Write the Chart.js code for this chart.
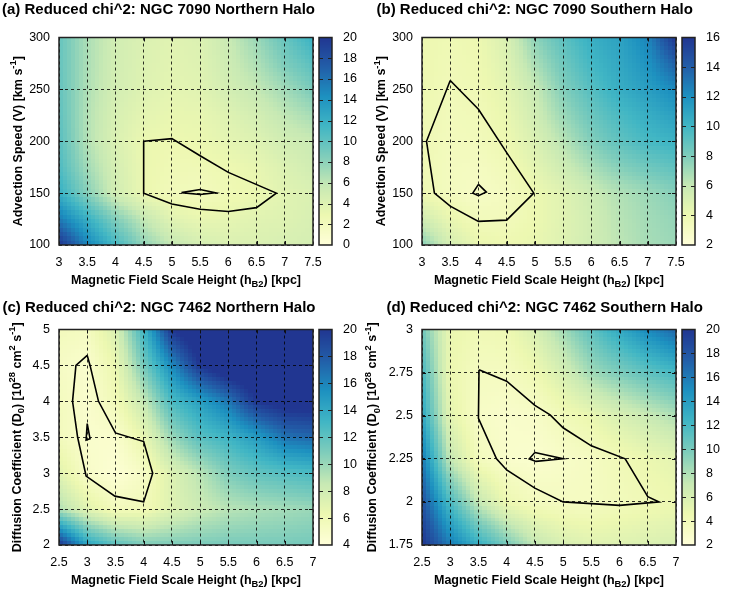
<!DOCTYPE html>
<html><head><meta charset="utf-8">
<script src="https://cdn.jsdelivr.net/npm/chart.js@4.4.1/dist/chart.umd.min.js"></script>
<style>
html,body{margin:0;padding:0;background:#fff;width:747px;height:592px;overflow:hidden;position:relative}
canvas{position:absolute}
</style></head><body>
<canvas id="ca"></canvas><canvas id="cb"></canvas><canvas id="cc"></canvas><canvas id="cd"></canvas>
<script>
// ---------- data ----------
// (a) NGC 7090 Northern Halo
const aXTicks = [3,3.5,4,4.5,5,5.5,6,6.5,7,7.5];
const aYTicks = [100,150,200,250,300];
const aYGrid  = [100,125,150,175,200,225,250,275,300];
const aCbTicks = [0,2,4,6,8,10,12,14,16,18,20];
const aZ = [ // rows: y = 100 ... 300, columns: x = 3 ... 7.5
  [20,15,11.2,7.8,5.8,4.7,4.3,4.3,4.5,4.7],
  [15.5,12,8.5,5.8,3.8,3.2,3.4,3.8,4,4.5],
  [12,8.3,5,3,2.2,2,2.5,3,3.8,4.3],
  [10.8,7.2,4.7,3,2.5,2.5,2.8,3.3,4.2,5],
  [10.3,6.5,4.3,3,2.8,3,3.5,4,5,5.5],
  [10,6.5,4.5,3.5,3.2,3.3,4,4.8,6,7],
  [9.8,6.7,4.8,4,3.5,3.8,4.8,5.8,7.2,8.8],
  [9.7,6.8,4.9,4.1,3.7,4,5.2,6.7,8.7,10.3],
  [9.7,6.8,5,4.2,3.8,4.2,5.5,7.5,9.7,11.8]
];
const aContourOuter = [[4.5,200],[5,202.5],[5.5,186],[6,170],[6.85,150],[6.5,136],[6,132.3],[5.5,134.5],[5,139.5],[4.5,150],[4.5,200]];
const aContourInner = [[5.17,150.5],[5.5,153.5],[5.77,150.3],[5.5,148.7],[5.17,150.5]];

// (b) NGC 7090 Southern Halo
const bXTicks = [3,3.5,4,4.5,5,5.5,6,6.5,7,7.5];
const bYTicks = [100,150,200,250,300];
const bYGrid  = [100,125,150,175,200,225,250,275,300];
const bCbTicks = [2,4,6,8,10,12,14,16];
const bZ = [
  [7.7,5.3,4.2,4,4.2,4.8,5.5,6.3,6.9,7.2],
  [5.5,4.2,3.5,3.5,4,4.7,5.5,6.4,7,7.4],
  [3.9,3.3,3,3.3,4,4.7,5.7,6.6,7.2,7.8],
  [3.8,3.3,3.2,3.6,4.5,5.6,6.8,7.8,8.5,9],
  [3.8,3.4,3.5,4,5,6.4,7.9,9,9.8,10.2],
  [3.9,3.5,3.6,4.2,5.5,7.2,8.6,9.7,10.5,11.2],
  [4,3.6,3.8,4.5,5.9,7.9,9.3,10.5,11.3,12.3],
  [4,3.7,3.9,4.8,6.8,8.5,9.9,10.8,11.9,14],
  [4,3.8,4,5.1,7.6,9.1,10.4,11.1,12.5,16]
];
const bContourOuter = [[3.5,258.5],[4,230.8],[4.5,189],[4.98,150],[4.5,124],[4,122.8],[3.5,137.5],[3.22,150],[3.08,200],[3.5,258.5]];
const bContourInner = [[4,158.4],[4.14,151],[4,147.5],[3.9,150],[4,158.4]];

// (c) NGC 7462 Northern Halo
const cXTicks = [2.5,3,3.5,4,4.5,5,5.5,6,6.5,7];
const cYTicks = [2,2.5,3,3.5,4,4.5,5];
const cYGrid  = [2,2.5,3,3.5,4,4.5,5];
const cCbTicks = [4,6,8,10,12,14,16,18,20];
const cZ = [
  [20,14.3,12.1,10.9,10.9,11,11.1,11.1,11.1,11.2],
  [9.3,7,5.6,5.8,7.2,8.3,9,9.4,9.7,10],
  [7,5,4.3,5.2,7.3,9,10.9,11.9,12.4,12.8],
  [5.6,4.7,4.7,6.6,10,12.3,13.3,14.8,16.8,17.3],
  [5.5,4.7,5.8,8.6,12.8,14.6,16.6,20,21,21],
  [5.2,4.7,6.4,11.3,15.8,20,22,22,22,22],
  [5.6,5.4,7.4,13.3,20,22,22,22,22,22]
];
const cContourOuter = [[3,4.64],[3.05,4.5],[3.2,4],[3.5,3.56],[4,3.44],[4.16,3],[4,2.6],[3.49,2.68],[2.98,2.96],[2.83,3.5],[2.74,4],[2.8,4.5],[3,4.64]];
const cContourInner = [[3,3.69],[3.05,3.48],[2.98,3.46],[3,3.69]];

// (d) NGC 7462 Southern Halo
const dXTicks = [2.5,3,3.5,4,4.5,5,5.5,6,6.5,7];
const dYTicks = [1.75,2,2.25,2.5,2.75,3];
const dYGrid  = [1.75,2,2.25,2.5,2.75,3];
const dCbTicks = [2,4,6,8,10,12,14,16,18,20];
const dZ = [
  [20,15.9,12.8,10,7.3,6,5.5,5.6,5.8,6],
  [18.2,11.8,7.2,4.5,3.7,3.5,3.5,3.9,4.2,4.5],
  [16,7.2,3.8,2.9,2.7,3.1,3.5,4.1,4.7,5.2],
  [13.4,5.2,3.2,2.9,3.1,4,4.8,6,7,8],
  [12,4.6,3.6,3.6,4.4,6.2,8.5,9.8,11,12],
  [10.3,4.8,4.2,4.4,6,8.5,11,13.3,15.3,17]
];
const dContourOuter = [[3.51,2.766],[4,2.7],[4.5,2.56],[4.77,2.505],[5,2.43],[5.5,2.325],[6.1,2.25],[6.5,2.03],[6.7,2],[6,1.98],[5,2],[4.5,2.08],[4,2.185],[3.82,2.25],[3.5,2.485],[3.51,2.766]];
const dContourInner = [[4.5,2.287],[5,2.25],[4.52,2.235],[4.4,2.25],[4.5,2.287]];

// ---------- texts ----------
const titleA = '(a) Reduced chi^2: NGC 7090 Northern Halo';
const titleB = '(b) Reduced chi^2: NGC 7090 Southern Halo';
const titleC = '(c) Reduced chi^2: NGC 7462 Northern Halo';
const titleD = '(d) Reduced chi^2: NGC 7462 Southern Halo';
const xTitle = [['Magnetic Field Scale Height (h','n'],['B2','sub'],[') [kpc]','n']];
const velTitle = [['Advection Speed (V) [km s','n'],['-1','sup'],[']','n']];
const difTitle = [['Diffusion Coefficient (D','n'],['0','sub'],[') [10','n'],['28','sup'],[' cm','n'],['2','sup'],[' s','n'],['-1','sup'],[']','n']];

// ---------- styling / rendering ----------
const FONT = '"Liberation Sans", Arial, Helvetica, sans-serif';
Chart.defaults.font.family = FONT;
Chart.defaults.color = '#000';
const STOPS = [[255,255,217],[237,248,177],[199,233,180],[127,205,187],[65,182,196],[29,145,192],[34,94,168],[33,54,145]];
function cmap(f){
  f = Math.max(0, Math.min(1, f));
  const n = STOPS.length - 1, t = f * n;
  const i = Math.min(n - 1, Math.floor(t)), u = t - i;
  const a = STOPS[i], b = STOPS[i + 1];
  return 'rgb(' + Math.round(a[0] + (b[0] - a[0]) * u) + ',' + Math.round(a[1] + (b[1] - a[1]) * u) + ',' + Math.round(a[2] + (b[2] - a[2]) * u) + ')';
}
const fmt = v => String(Math.round(v * 1000) / 1000);

function drawRich(ctx, parts, cx, cy, fs, rot){
  const fnt = k => 'bold ' + (k === 'n' ? fs : fs * 0.75) + 'px ' + FONT;
  ctx.save(); ctx.translate(cx, cy); ctx.rotate(rot);
  let total = 0; const ws = [];
  parts.forEach(([t, k]) => { ctx.font = fnt(k); const w = ctx.measureText(t).width; ws.push(w); total += w; });
  let x = -total / 2;
  ctx.textAlign = 'left'; ctx.textBaseline = 'alphabetic'; ctx.fillStyle = '#000';
  const base = 0.36 * fs;
  parts.forEach(([t, k], i) => {
    ctx.font = fnt(k);
    const dy = k === 'sup' ? -0.42 * fs : (k === 'sub' ? 0.28 * fs : 0);
    ctx.fillText(t, x, base + dy); x += ws[i];
  });
  ctx.restore();
}

function heatPlugin(p){
  return { id: 'heat', beforeDraw(chart){
    const ctx = chart.ctx, sx = chart.scales.x, sy = chart.scales.y;
    const xs = p.xTicks, ys = p.yGrid, z = p.z, lo = p.cbTicks[0], hi = p.cbTicks[p.cbTicks.length - 1];
    ctx.save();
    for (let i = 0; i < xs.length - 1; i++){
      const nx = Math.max(1, Math.round(Math.abs(sx.getPixelForValue(xs[i+1]) - sx.getPixelForValue(xs[i])) / 4));
      for (let j = 0; j < ys.length - 1; j++){
        const ny = Math.max(1, Math.round(Math.abs(sy.getPixelForValue(ys[j+1]) - sy.getPixelForValue(ys[j])) / 4));
        const z00 = z[j][i], z10 = z[j][i+1], z01 = z[j+1][i], z11 = z[j+1][i+1];
        for (let a = 0; a < nx; a++){
          const x0 = Math.round(sx.getPixelForValue(xs[i] + (xs[i+1] - xs[i]) * a / nx));
          const x1 = Math.round(sx.getPixelForValue(xs[i] + (xs[i+1] - xs[i]) * (a + 1) / nx));
          const u = (a + 0.5) / nx;
          for (let b = 0; b < ny; b++){
            const y0 = Math.round(sy.getPixelForValue(ys[j] + (ys[j+1] - ys[j]) * b / ny));
            const y1 = Math.round(sy.getPixelForValue(ys[j] + (ys[j+1] - ys[j]) * (b + 1) / ny));
            const v = (b + 0.5) / ny;
            const val = z00 * (1 - u) * (1 - v) + z10 * u * (1 - v) + z01 * (1 - u) * v + z11 * u * v;
            ctx.fillStyle = cmap((val - lo) / (hi - lo));
            ctx.fillRect(Math.min(x0, x1), Math.min(y0, y1), Math.abs(x1 - x0), Math.abs(y1 - y0));
          }
        }
      }
    }
    ctx.restore();
  }};
}

function framePlugin(p){
  return { id: 'frame', afterDatasetsDraw(chart){
    const ctx = chart.ctx, ca = chart.chartArea, sx = chart.scales.x, sy = chart.scales.y, sc = chart.scales.cb;
    ctx.save();
    ctx.strokeStyle = '#111'; ctx.lineWidth = 1;
    ctx.beginPath();
    p.xTicks.slice(1, -1).forEach(v => { const x = Math.round(sx.getPixelForValue(v)) + 0.5;
      ctx.moveTo(x, ca.bottom); ctx.lineTo(x, ca.bottom - 4); ctx.moveTo(x, ca.top); ctx.lineTo(x, ca.top + 4); });
    p.yTicks.slice(1, -1).forEach(v => { const y = Math.round(sy.getPixelForValue(v)) + 0.5;
      ctx.moveTo(ca.left, y); ctx.lineTo(ca.left + 4, y); ctx.moveTo(ca.right, y); ctx.lineTo(ca.right - 4, y); });
    ctx.stroke();
    ctx.lineWidth = 1.5; ctx.strokeStyle = '#222';
    ctx.strokeRect(ca.left, ca.top, ca.right - ca.left, ca.bottom - ca.top);
    const lo = p.cbTicks[0], hi = p.cbTicks[p.cbTicks.length - 1];
    const bx = Math.round(ca.right + 6), bw = 13;
    for (let py = Math.floor(ca.top); py < Math.ceil(ca.bottom); py++){
      const v = sc.getValueForPixel(py + 0.5);
      ctx.fillStyle = cmap((v - lo) / (hi - lo));
      ctx.fillRect(bx, py, bw, 1);
    }
    ctx.lineWidth = 1; ctx.strokeStyle = '#222';
    ctx.beginPath();
    p.cbTicks.slice(1, -1).forEach(v => { const y = Math.round(sc.getPixelForValue(v)) + 0.5;
      ctx.moveTo(bx, y); ctx.lineTo(bx + 4, y); ctx.moveTo(bx + bw, y); ctx.lineTo(bx + bw - 4, y); });
    ctx.stroke();
    ctx.lineWidth = 1.5;
    ctx.strokeRect(bx, ca.top, bw, ca.bottom - ca.top);
    ctx.restore();
  }};
}

function labelPlugin(p){
  return { id: 'labels', afterDraw(chart){
    const ctx = chart.ctx, ca = chart.chartArea;
    ctx.save();
    ctx.font = 'bold 15px ' + FONT; ctx.fillStyle = '#000'; ctx.textAlign = 'left'; ctx.textBaseline = 'alphabetic';
    ctx.fillText(p.title, p.titleX - p.L, p.titleY - p.T);
    ctx.restore();
    drawRich(ctx, xTitle, (ca.left + ca.right) / 2, ca.bottom + 34, 12.5, 0);
    drawRich(ctx, p.yTitle, ca.left - p.yOff, (ca.top + ca.bottom) / 2, 12.5, -Math.PI / 2);
  }};
}

const GRID = 'rgba(0,0,0,0.8)';
function makeChart(p){
  const cv = document.getElementById(p.id);
  cv.width = p.W; cv.height = p.H;
  cv.style.left = p.L + 'px'; cv.style.top = p.T + 'px';
  cv.style.width = p.W + 'px'; cv.style.height = p.H + 'px';
  const [al, ar, at, ab] = p.area;
  const datasets = p.contours.map(c => ({
    data: c.map(([x, y]) => ({x, y})), showLine: true, borderColor: '#000', borderWidth: 1.6,
    pointRadius: 0, pointHoverRadius: 0, fill: false, tension: 0
  }));
  const tickSet = arr => s => { s.ticks = arr.map(v => ({value: v})); };
  new Chart(cv, {
    type: 'scatter',
    data: {datasets},
    options: {
      responsive: false, animation: false, devicePixelRatio: 1, events: [],
      layout: {padding: {top: at - p.T, left: 0, right: 0, bottom: 0}},
      plugins: {legend: {display: false}, tooltip: {enabled: false}, title: {display: false}},
      scales: {
        x: {type: 'linear', position: 'bottom', min: p.xTicks[0], max: p.xTicks[p.xTicks.length - 1],
            afterBuildTicks: tickSet(p.xTicks), afterFit: s => { s.height = p.T + p.H - ab; },
            ticks: {padding: 10, autoSkip: false, maxRotation: 0, callback: v => fmt(v), font: {size: 12.5}, color: '#000'},
            grid: {color: GRID, lineWidth: 1, drawTicks: false}, border: {display: false, dash: [3, 3]}},
        y: {type: 'linear', position: 'left', min: p.yTicks[0], max: p.yTicks[p.yTicks.length - 1],
            afterBuildTicks: tickSet(p.yTicks), afterFit: s => { s.width = al - p.L; },
            ticks: {padding: 9, autoSkip: false, callback: v => fmt(v), font: {size: 12.5}, color: '#000'},
            grid: {color: GRID, lineWidth: 1, drawTicks: false}, border: {display: false, dash: [3, 3]}},
        cb: {type: 'linear', position: 'right', min: p.cbTicks[0], max: p.cbTicks[p.cbTicks.length - 1],
            afterBuildTicks: tickSet(p.cbTicks), afterFit: s => { s.width = p.L + p.W - ar; },
            ticks: {padding: 30, autoSkip: false, callback: v => fmt(v), font: {size: 12.5}, color: '#000'},
            grid: {display: false, drawTicks: false}, border: {display: false}}
      }
    },
    plugins: [heatPlugin(p), framePlugin(p), labelPlugin(p)]
  });
}

const panels = [
  {id: 'ca', L: 0, T: 0, W: 373, H: 296, area: [59, 313, 28, 245], title: titleA, titleX: 2, titleY: 14,
   xTicks: aXTicks, yTicks: aYTicks, yGrid: aYGrid, cbTicks: aCbTicks, z: aZ, yTitle: velTitle, yOff: 42,
   contours: [aContourOuter, aContourInner]},
  {id: 'cb', L: 355, T: 0, W: 392, H: 296, area: [422, 676, 28, 245], title: titleB, titleX: 376.5, titleY: 14,
   xTicks: bXTicks, yTicks: bYTicks, yGrid: bYGrid, cbTicks: bCbTicks, z: bZ, yTitle: velTitle, yOff: 41.5,
   contours: [bContourOuter, bContourInner]},
  {id: 'cc', L: 0, T: 292, W: 373, H: 300, area: [59, 313, 328, 545], title: titleC, titleX: 2.5, titleY: 312,
   xTicks: cXTicks, yTicks: cYTicks, yGrid: cYGrid, cbTicks: cCbTicks, z: cZ, yTitle: difTitle, yOff: 43,
   contours: [cContourOuter, cContourInner]},
  {id: 'cd', L: 355, T: 292, W: 392, H: 300, area: [422, 676, 328, 545], title: titleD, titleX: 386.5, titleY: 312,
   xTicks: dXTicks, yTicks: dYTicks, yGrid: dYGrid, cbTicks: dCbTicks, z: dZ, yTitle: difTitle, yOff: 50.5,
   contours: [dContourOuter, dContourInner]}
];
panels.forEach(makeChart);
</script>
</body></html>
